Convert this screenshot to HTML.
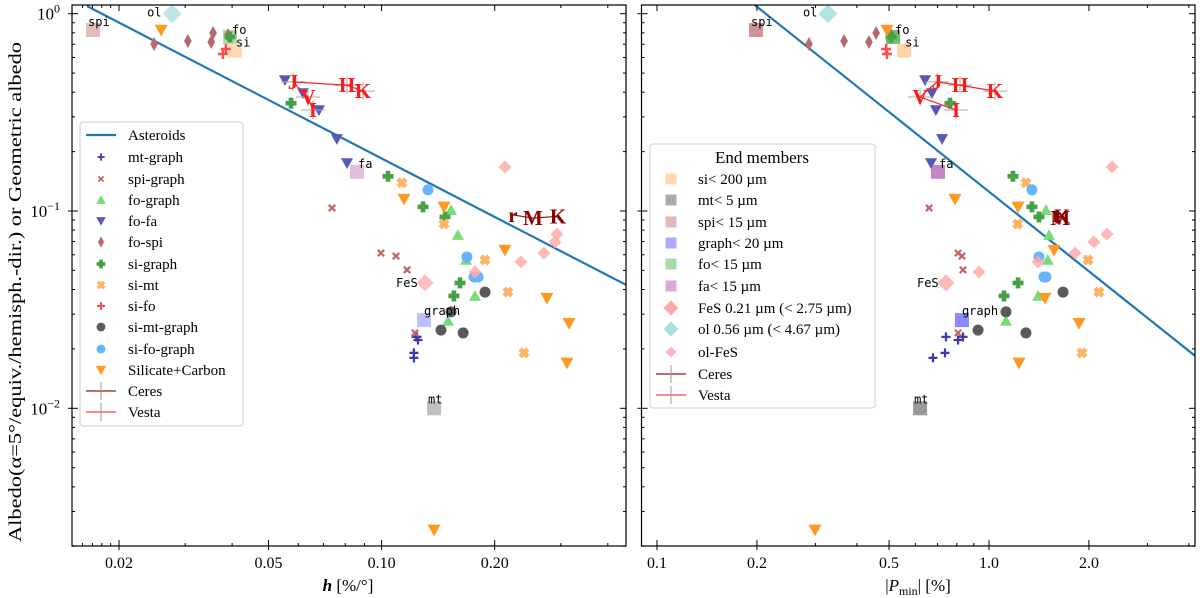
<!DOCTYPE html>
<html><head><meta charset="utf-8"><style>
html,body{margin:0;padding:0;background:#fff;}
svg{display:block;}
</style></head><body>
<svg id="chart" width="1200" height="598" viewBox="0 0 1200 598" xmlns="http://www.w3.org/2000/svg">
<defs>
<clipPath id="clipL"><rect x="72" y="5" width="554" height="541"/></clipPath>
<clipPath id="clipR"><rect x="641.5" y="5" width="553.5" height="541"/></clipPath>
</defs>
</svg>
<script>
// ---------- data ----------
const yMin=0.002, yMax=1.107;
const hMin=0.015, hMax=0.447;
const pMin=0.0898, pMax=4.26;
// asteroid fit lines (albedo = a * (x/x0)^b)
const astLeft=[1.094,0.01643,-0.985];
const astRight=[1.107,0.197,-1.341];

const mtGraphAlb=[0.0230,0.0222,0.0230,0.0191,0.0180];
const mtGraphH=[0.1242,0.1250,0.1235,0.1219,0.1219];
const mtGraphP=[0.742,0.807,0.835,0.737,0.678];

const spiGraphAlb=[0.1036,0.0612,0.0591,0.0503,0.0241];
const spiGraphH=[0.0738,0.0996,0.1092,0.1169,0.1227];
const spiGraphP=[0.660,0.807,0.829,0.835,0.807];

const foGraphAlb=[0.101,0.0755,0.0565,0.0371,0.0277];
const foGraphH=[0.1530,0.1596,0.1678,0.1772,0.1503];
const foGraphP=[1.484,1.516,1.503,1.405,1.125];

const foFaAlb=[0.461,0.396,0.325,0.232,0.175];
const foFaH=[0.0553,0.0618,0.0681,0.0760,0.0809];
const foFaP=[0.642,0.673,0.692,0.722,0.669];

const foSpiAlb=[0.702,0.727,0.719,0.798,0.780];
const foSpiH=[0.0248,0.0305,0.0352,0.0356,0.0390];
const foSpiP=[0.287,0.366,0.435,0.457,0.507];

const siGraphAlb=[0.352,0.150,0.105,0.0933,0.0432,0.0371,0.762];
const siGraphH=[0.0574,0.1040,0.1289,0.1475,0.1617,0.1558,0.0395];
const siGraphP=[0.763,1.181,1.347,1.414,1.223,1.110,0.507];

const siMtAlb=[0.139,0.0859,0.0565,0.0388,0.0191];
const siMtH=[0.1133,0.1466,0.1885,0.2168,0.2393];
const siMtP=[1.292,1.22,1.987,2.143,1.906];

const siFoAlb=[0.662,0.625];
const siFoH=[0.0385,0.0378];
const siFoP=[0.490,0.493];

const siMtGraphAlb=[0.0388,0.0249,0.0241,0.0308];
const siMtGraphH=[0.1885,0.1439,0.1648,0.1530];
const siMtGraphP=[1.671,0.927,1.292,1.125];

const siFoGraphAlb=[0.128,0.0585,0.0463,0.0463];
const siFoGraphH=[0.1329,0.1687,0.1762,0.1806];
const siFoGraphP=[1.347,1.414,1.464,1.484];

const silCarbAlb=[0.827,0.115,0.105,0.0634,0.0362,0.0270,0.0170,0.00242];
const silCarbH=[0.0259,0.1147,0.1466,0.2130,0.2755,0.3155,0.3115,0.1379];
const silCarbP=[0.493,0.790,1.223,1.570,1.474,1.867,1.231,0.299];

const olFesAlb=[0.167,0.0764,0.0697,0.0612,0.0552,0.0491];
const olFesH=[0.2130,0.2930,0.2894,0.2705,0.2350,0.1772];
const olFesP=[2.348,2.266,2.071,1.816,1.405,0.933];

const endNames=["spi","ol","fo","si","fa","FeS","graph","mt"];
const endAlb=[0.827,1.0,0.762,0.650,0.158,0.0432,0.0280,0.0100];
const endH=[0.01706,0.0277,0.0395,0.0407,0.0860,0.1305,0.1297,0.1379];
const endP=[0.1987,0.3273,0.514,0.555,0.702,0.742,0.829,0.620];

const ceresBands=["r","M","K"];
const ceresAlb=[0.0955,0.092,0.094];
const ceresH=[0.2237,0.2528,0.2948];
const ceresP=[1.60,1.64,1.66];

const vestaBands=["K","H","J","V","I"];
const vestaAlb=[0.405,0.434,0.451,0.378,0.325];
const vestaH=[0.0892,0.0809,0.0581,0.0637,0.0656];
const vestaP=[1.042,0.818,0.697,0.620,0.796];

const hTicks=[0.02,0.05,0.10,0.20];
const hTickLabels=["0.02","0.05","0.10","0.20"];
const pTicks=[0.1,0.2,0.5,1.0,2.0];
const pTickLabels=["0.1","0.2","0.5","1.0","2.0"];
const yTicks=[1,0.1,0.01];
const yTickExp=["0","\u22121","\u22122"];

// ---------- scales ----------
const L=Math.log10;
const xL=h=>381.6+375.7*L(h/0.1);
const xR=p=>989+332*L(p);
const yS=v=>13.7-197.3*L(v);

const NS="http://www.w3.org/2000/svg";
const svg=document.getElementById('chart');
function el(tag,attrs,parent){const e=document.createElementNS(NS,tag);for(const k in attrs)e.setAttribute(k,attrs[k]);(parent||svg).appendChild(e);return e;}

function marker(g,type,x,y,s,color,op){
  let e;
  const h=s/2;
  if(type==='plus'||type==='pthick'){
    const w=type==='pthick'?s*0.42:s*0.25;
    e=el('path',{d:`M${x-h},${y-w/2}h${h-w/2}v${-(h-w/2)}h${w}v${h-w/2}h${h-w/2}v${w}h${-(h-w/2)}v${h-w/2}h${-w}v${-(h-w/2)}h${-(h-w/2)}z`,fill:color,opacity:op},g);
  }else if(type==='x'||type==='xthick'){
    const w=type==='xthick'?s*0.42:s*0.25;
    e=el('path',{d:`M${-h},${-w/2}h${h-w/2}v${-(h-w/2)}h${w}v${h-w/2}h${h-w/2}v${w}h${-(h-w/2)}v${h-w/2}h${-w}v${-(h-w/2)}h${-(h-w/2)}z`,fill:color,opacity:op,transform:`translate(${x},${y}) rotate(45)`},g);
  }else if(type==='tu'){
    e=el('path',{d:`M${x},${y-h}L${x+h},${y+h*0.8}L${x-h},${y+h*0.8}z`,fill:color,opacity:op},g);
  }else if(type==='td'){
    e=el('path',{d:`M${x},${y+h}L${x+h},${y-h*0.8}L${x-h},${y-h*0.8}z`,fill:color,opacity:op},g);
  }else if(type==='dia'){
    e=el('path',{d:`M${x},${y-h}L${x+h},${y}L${x},${y+h}L${x-h},${y}z`,fill:color,opacity:op},g);
  }else if(type==='thindia'){
    e=el('path',{d:`M${x},${y-h}L${x+h*0.55},${y}L${x},${y+h}L${x-h*0.55},${y}z`,fill:color,opacity:op},g);
  }else if(type==='circle'){
    e=el('circle',{cx:x,cy:y,r:h,fill:color,opacity:op},g);
  }else if(type==='square'){
    e=el('rect',{x:x-h,y:y-h,width:s,height:s,fill:color,opacity:op},g);
  }
  return e;
}

const series=[
 ['mt-graph','plus',9,'#3a3aa8',1,mtGraphAlb,mtGraphH,mtGraphP],
 ['spi-graph','x',9,'#c06666',1,spiGraphAlb,spiGraphH,spiGraphP],
 ['fo-graph','tu',12,'#77dd77',1,foGraphAlb,foGraphH,foGraphP],
 ['fo-fa','td',12,'#5858b4',1,foFaAlb,foFaH,foFaP],
 ['fo-spi','thindia',14,'#b86a6a',1,foSpiAlb,foSpiH,foSpiP],
 ['si-graph','pthick',11,'#46a046',1,siGraphAlb,siGraphH,siGraphP],
 ['si-mt','xthick',11,'#ffb366',1,siMtAlb,siMtH,siMtP],
 ['si-fo','plus',10,'#ff4d4d',1,siFoAlb,siFoH,siFoP],
 ['si-mt-graph','circle',11,'#5a5a5a',1,siMtGraphAlb,siMtGraphH,siMtGraphP],
 ['si-fo-graph','circle',11,'#66b3ff',1,siFoGraphAlb,siFoGraphH,siFoGraphP],
 ['silicate-carbon','td',13,'#ff9922',1,silCarbAlb,silCarbH,silCarbP]
];

const panels=[
 {name:'left',x0:72,x1:626,fx:xL,clip:'clipL',ticks:hTicks,labels:hTickLabels,minor:[0.016,0.017,0.018,0.019,0.03,0.04,0.06,0.07,0.08,0.09,0.3,0.4],ast:astLeft,axmin:hMin,axmax:hMax},
 {name:'right',x0:641.5,x1:1195,fx:xR,clip:'clipR',ticks:pTicks,labels:pTickLabels,minor:[0.3,0.4,0.6,0.7,0.8,0.9,3,4],ast:astRight,axmin:pMin,axmax:pMax}
];
const endColors=[["#d9a6a6","#aadddd","#8fd08f","#ffcc99","#d6a8d6","#ffaaaa","#aaaaff","#aaaaaa"],["#c98080","#aadddd","#55b055","#ffcc99","#bb70bb","#ffaaaa","#7777ff","#888888"]];
const endShape=["square","dia","square","square","square","dia","square","square"];
const labDx=[-5,-25,2,1,1,-29,0,-6];
const labDy=[-4,3,-3,-4,-4,4,-5,-5];

panels.forEach((pn,pi)=>{
  const g=el('g',{});
  
  
  const pg=el('g',{'clip-path':`url(#${pn.clip})`},g);
  
  
  const a=pn.ast;
  const f=x=>a[0]*Math.pow(x/a[1],a[2]);
  const al=el('line',{x1:pn.fx(a[1]),y1:yS(f(a[1])),x2:pn.fx(pn.axmax),y2:yS(f(pn.axmax)),stroke:'#1f77b4','stroke-width':2.2},pg);
  
  
  endNames.forEach((n,i)=>{
    const ex=pn.fx(pi?endP[i]:endH[i]), ey=yS(endAlb[i]);
    const m=marker(pg,endShape[i],ex,ey,endShape[i]==='dia'?(i===1?19:17):14,endColors[pi][i],pi?0.85:0.75);
    
    
  });
  series.forEach(s=>{
    const xs=pi?s[7]:s[6];
    s[5].forEach((v,i)=>{
      const m=marker(pg,s[1],pn.fx(xs[i]),yS(v),s[2],s[3],s[4]);
      
      
    });
  });
  olFesAlb.forEach((v,i)=>{
    const m=marker(pg,'dia',pn.fx(pi?olFesP[i]:olFesH[i]),yS(v),13,'#ffaaaa',0.85);
    
    
  });
  endNames.forEach((n,i)=>{
    const t=el('text',{x:pn.fx(pi?endP[i]:endH[i])+labDx[i],y:yS(endAlb[i])+labDy[i],'font-family':'"DejaVu Sans Mono","Liberation Mono",monospace','font-size':12,fill:'#000'},pg);
    t.textContent=n;
    
    
  });
  const vx=vestaAlb.map((v,i)=>pn.fx(pi?vestaP[i]:vestaH[i]));
  const vy=vestaAlb.map(v=>yS(v));
  vx.forEach((x,i)=>{
    el('line',{x1:x-12,y1:vy[i],x2:x+12,y2:vy[i],stroke:'#aaa','stroke-width':1},pg);
    el('line',{x1:x,y1:vy[i]-9,x2:x,y2:vy[i]+9,stroke:'#aaa','stroke-width':1},pg);
  });
  const vp=el('polyline',{points:vx.map((x,i)=>x+','+vy[i]).join(' '),fill:'none',stroke:'#ff2020','stroke-width':1.2},pg);
  
  
  vestaBands.forEach((b,i)=>{
    const t=el('text',{x:vx[i],y:vy[i]+7,'text-anchor':'middle','font-family':'"Liberation Serif",serif','font-weight':'bold','font-size':21,fill:'#ff1a1a'},pg);
    t.textContent=b;
    
    
  });
  const cx=ceresAlb.map((v,i)=>pn.fx(pi?ceresP[i]:ceresH[i]));
  const cy=ceresAlb.map(v=>yS(v));
  el('polyline',{points:cx.map((x,i)=>x+','+cy[i]).join(' '),fill:'none',stroke:'#8b1a1a','stroke-width':1.2},pg);
  ceresBands.forEach((b,i)=>{
    const t=el('text',{x:cx[i],y:cy[i]+7,'text-anchor':'middle','font-family':'"Liberation Serif",serif','font-weight':'bold','font-size':21,fill:'#8b0000'},pg);
    t.textContent=b;
    
    
  });
  const fr=el('rect',{x:pn.x0,y:5,width:pn.x1-pn.x0,height:541,fill:'none',stroke:'#000','stroke-width':1.2},g);
  
  
  pn.ticks.forEach((t,i)=>{
    const x=pn.fx(t);
    el('line',{x1:x,y1:550,x2:x,y2:540,stroke:'#000'},g);
    el('line',{x1:x,y1:5,x2:x,y2:11,stroke:'#000'},g);
    const tx=el('text',{x:x,y:568,'text-anchor':'middle','font-family':'"Liberation Serif",serif','font-size':16},g);
    tx.textContent=pn.labels[i];
    
    
  });
  pn.minor.forEach(t=>{
    const x=pn.fx(t);
    if(x<pn.x0||x>pn.x1)return;
    el('line',{x1:x,y1:546,x2:x,y2:543,stroke:'#000'},g);
    el('line',{x1:x,y1:5,x2:x,y2:8,stroke:'#000'},g);
  });
  [0.01,0.1,1].forEach(d=>{
    const y=yS(d);
    el('line',{x1:pn.x0-4,y1:y,x2:pn.x0+6,y2:y,stroke:'#000'},g);
    el('line',{x1:pn.x1,y1:y,x2:pn.x1-6,y2:y,stroke:'#000'},g);
  });
  [0.002,0.003,0.004,0.005,0.006,0.007,0.008,0.009,0.02,0.03,0.04,0.05,0.06,0.07,0.08,0.09,0.2,0.3,0.4,0.5,0.6,0.7,0.8,0.9].forEach(v=>{
    const y=yS(v);
    el('line',{x1:pn.x0,y1:y,x2:pn.x0+3,y2:y,stroke:'#000'},g);
    el('line',{x1:pn.x1,y1:y,x2:pn.x1-3,y2:y,stroke:'#000'},g);
  });
});

yTicks.forEach((v,i)=>{
  const t=el('text',{x:60,y:yS(v)+6,'text-anchor':'end','font-family':'"Liberation Serif",serif','font-size':17});
  
  
  t.appendChild(document.createTextNode('10'));
  const s=el('tspan',{dy:-7,'font-size':12},t);
  s.textContent=yTickExp[i];
});

const yt=el('text',{x:0,y:0,transform:'translate(21,292) rotate(-90)','text-anchor':'middle','font-family':'"Liberation Serif",serif','font-size':18,textLength:500,lengthAdjust:'spacingAndGlyphs'});
yt.textContent='Albedo(\u03b1=5\u00b0/equiv./hemisph.-dir.) or Geometric albedo';


const xt1=el('text',{x:348,y:591,'text-anchor':'middle','font-family':'"Liberation Serif",serif','font-size':17});
xt1.innerHTML='<tspan font-style="italic" font-weight="bold">h</tspan> [%/\u00b0]';


const xt2=el('text',{x:918,y:591,'text-anchor':'middle','font-family':'"Liberation Serif",serif','font-size':17});
xt2.innerHTML='|<tspan font-style="italic">P</tspan><tspan font-size="12" dy="4">min</tspan><tspan dy="-4">| [%]</tspan>';



const lg=el('g',{});


el('rect',{x:80,y:122,width:163,height:304,rx:3,fill:'#fff','fill-opacity':0.85,stroke:'#ccc'},lg);
const lgY=[135,157,179,200,221,242,264,285,306,327,349,370,391,412];
const lgNames=['Asteroids','mt-graph','spi-graph','fo-graph','fo-fa','fo-spi','si-graph','si-mt','si-fo','si-mt-graph','si-fo-graph','Silicate+Carbon','Ceres','Vesta'];
lgNames.forEach((n,i)=>{
  const y=lgY[i];
  const eg=el('g',{},lg);
  
  
  if(i===0){el('line',{x1:86,y1:y,x2:116,y2:y,stroke:'#1f77b4','stroke-width':2.2},eg);}
  else if(i<=11){const s=series[i-1];marker(eg,s[1],101,y,s[2]*0.8,s[3],s[4]);}
  else{el('line',{x1:86,y1:y,x2:116,y2:y,stroke:i===12?'#a04040':'#ff6060','stroke-width':1.5},eg);el('line',{x1:101,y1:y-9,x2:101,y2:y+9,stroke:'#999'},eg);}
  const t=el('text',{x:128,y:y+5,'font-family':'"Liberation Serif",serif','font-size':15},eg);
  t.textContent=n;
});

const rg=el('g',{});


el('rect',{x:650,y:144,width:225,height:264,rx:3,fill:'#fff','fill-opacity':0.85,stroke:'#ccc'},rg);
const rtt=el('text',{x:762,y:163,'text-anchor':'middle','font-family':'"Liberation Serif",serif','font-size':17},rg);
rtt.textContent='End members';
const rgY=[179,200,222,243,264,286,308,329,352,374,395];
const rgNames=['si< 200 \u00b5m','mt< 5 \u00b5m','spi< 15 \u00b5m','graph< 20 \u00b5m','fo< 15 \u00b5m','fa< 15 \u00b5m','FeS 0.21 \u00b5m (< 2.75 \u00b5m)','ol 0.56 \u00b5m (< 4.67 \u00b5m)','ol-FeS','Ceres','Vesta'];
const rgShape=['square','square','square','square','square','square','dia','dia','dia'];
const rgSize=[11,11,11,11,11,11,15,15,11];
const rgCol=['#ffd8b0','#aaaaaa','#e0b8b8','#aaaaff','#a8d8a8','#d8a8d8','#ffaaaa','#aadddd','#ffb8b8'];
rgNames.forEach((n,i)=>{
  const y=rgY[i];
  const eg=el('g',{},rg);
  
  
  if(i<9)marker(eg,rgShape[i],671,y,rgSize[i],rgCol[i],1);
  else{el('line',{x1:656,y1:y,x2:686,y2:y,stroke:i===9?'#a04040':'#ff6060','stroke-width':1.5},eg);el('line',{x1:671,y1:y-9,x2:671,y2:y+9,stroke:'#999'},eg);}
  const t=el('text',{x:698,y:y+5,'font-family':'"Liberation Serif",serif','font-size':15},eg);
  t.textContent=n;
});
</script>
</body></html>
